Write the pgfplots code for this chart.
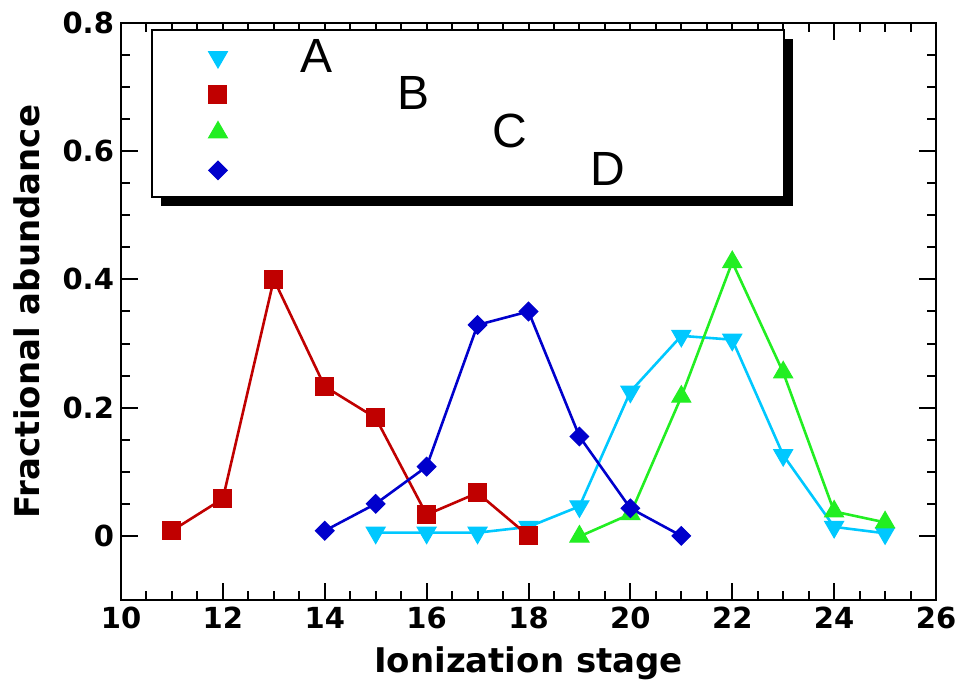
\documentclass[border=0pt]{standalone}
\usepackage{pgfplots}
\pgfplotsset{compat=1.18}
\usetikzlibrary{shadows}
\usepackage{fontspec}
\setmainfont{DejaVu Sans}
\newfontfamily\legfont{Liberation Sans}
\definecolor{cA}{RGB}{0,200,255}
\definecolor{cB}{RGB}{192,0,0}
\definecolor{cC}{RGB}{34,238,34}
\definecolor{cD}{RGB}{0,0,204}
\begin{document}
\begin{tikzpicture}
\begin{axis}[
  scale only axis,
  width=407.5pt, height=288.5pt,
  xmin=10, xmax=26, ymin=-0.1, ymax=0.8,
  xtick={10,12,...,26},
  ytick={0,0.2,0.4,0.6,0.8},
  minor x tick num=3, minor y tick num=3,
  tick align=inside,
  major tick length=8.5pt, minor tick length=4.5pt,
  every tick/.style={black, line width=1pt},
  axis line style={line width=1pt},
  /pgf/number format/assume math mode=true,
  tick label style={font=\fontsize{14.5}{15}\selectfont\bfseries},
  label style={font=\fontsize{17}{18}\selectfont\bfseries},
  xlabel={Ionization stage},
  ylabel={Fractional abundance},
  xlabel style={at={(axis description cs:0.5,0)}, anchor=base, yshift=-36.5pt},
  ylabel style={at={(axis description cs:0,0.5)}, anchor=base, yshift=40.5pt},
  legend cell align=left,
  legend style={at={(axis description cs:0,1)}, anchor=north west, xshift=15pt, yshift=-3pt,
    draw=black, line width=1pt, fill=white,
    inner xsep=0pt, inner ysep=4.5pt, row sep=0.8pt,
    nodes={inner sep=0pt, font=\legfont\fontsize{24}{24}\selectfont},
    drop shadow={shadow xshift=4.5pt, shadow yshift=-4.5pt, fill=black, opacity=1}},
  legend image code/.code={%
    \pgfpathmoveto{\pgfpoint{0pt}{-8pt}}\pgfpathlineto{\pgfpoint{74.5pt}{8pt}}\pgfusepath{}%
    \draw[#1] plot[only marks] coordinates {(33pt,0pt)};},
]
\addplot[color=cA, line width=1.3pt, mark=triangle*, mark size=5.5pt, mark options={rotate=180, line width=0.5pt}]
 coordinates {(15,0.005)(16,0.005)(17,0.005)(18,0.014)(19,0.046)(20,0.225)(21,0.312)(22,0.306)(23,0.126)(24,0.014)(25,0.004)};
\addlegendentry{\makebox[241.5pt][l]{A}}
\addplot[color=cB, line width=1.3pt, mark=square*, mark size=4.5pt, mark options={line width=0.5pt}]
 coordinates {(11,0.008)(12,0.058)(13,0.400)(14,0.233)(15,0.184)(16,0.033)(17,0.067)(18,0.000)};
\addlegendentry{\makebox[241.5pt][l]{\hspace{48.5pt}B}}
\addplot[color=cC, line width=1.3pt, mark=triangle*, mark size=5.5pt, mark options={line width=0.5pt}]
 coordinates {(19,-0.001)(20,0.034)(21,0.217)(22,0.427)(23,0.255)(24,0.038)(25,0.021)};
\addlegendentry{\makebox[241.5pt][l]{\hspace{96pt}C}}
\addplot[color=cD, line width=1.3pt, mark=square*, mark size=3.3pt, mark options={rotate=45, line width=0.5pt}]
 coordinates {(14,0.008)(15,0.050)(16,0.108)(17,0.329)(18,0.350)(19,0.155)(20,0.043)(21,0.000)};
\addlegendentry{\makebox[241.5pt][l]{\hspace{145pt}D}}
\coordinate (SW) at (rel axis cs:0,0);
\coordinate (NE) at (rel axis cs:1,1);
\end{axis}
\pgfresetboundingbox
\path ([shift={(-60.5pt,-41pt)}]SW) rectangle ([shift={(11pt,11.5pt)}]NE);
\end{tikzpicture}
\end{document}
